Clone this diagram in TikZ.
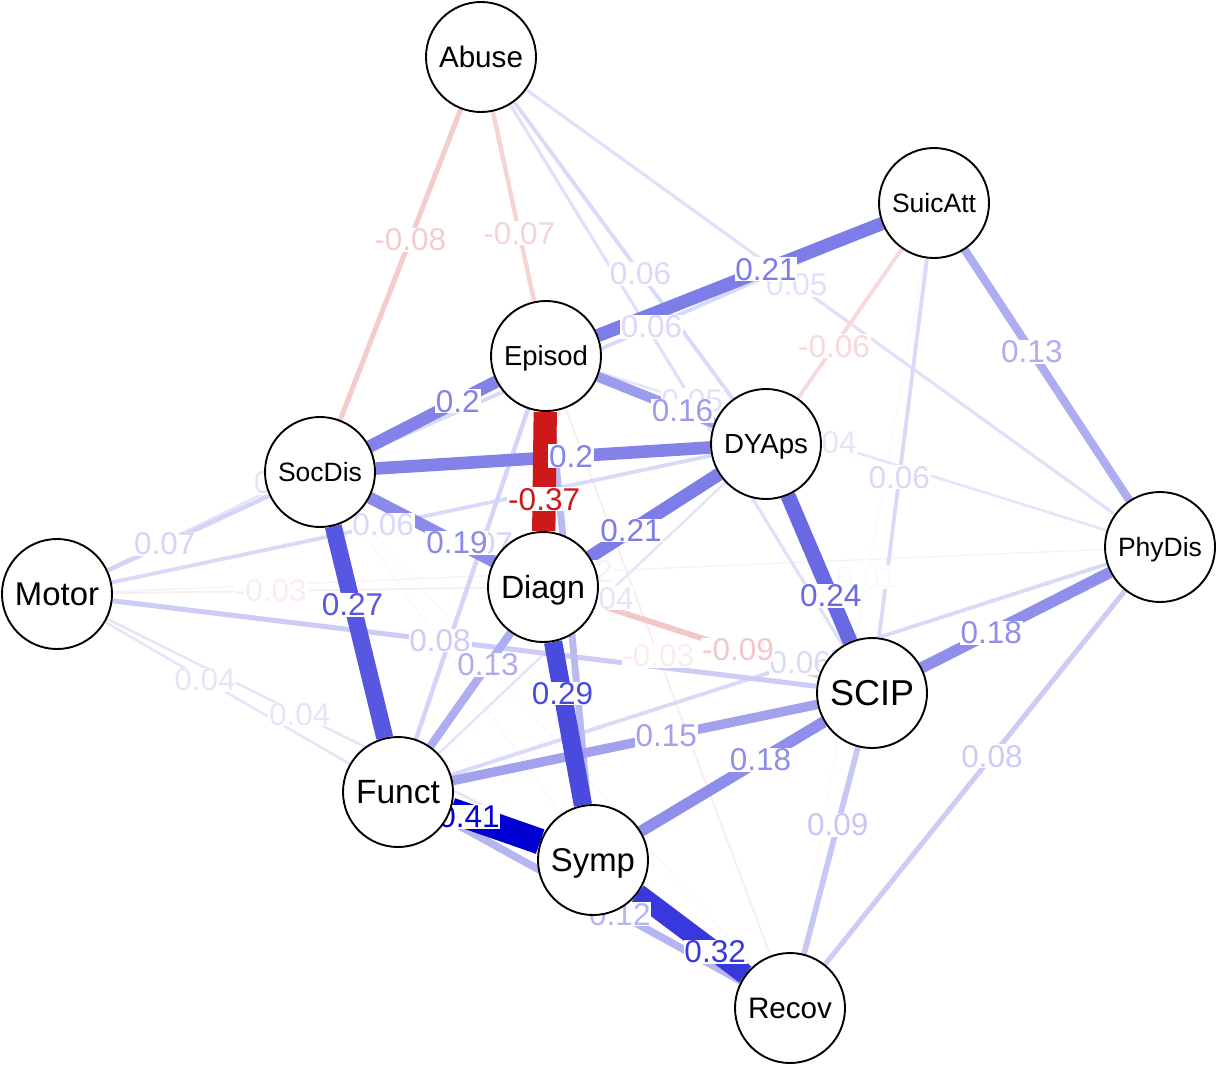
\documentclass[tikz,border=0pt]{standalone}
\usepackage{fontspec}
\usepackage{graphicx}
\setmainfont{Liberation Sans}
\definecolor{posc}{RGB}{0,0,210}
\definecolor{negc}{RGB}{200,0,0}
\pgfdeclarelayer{bglayer}
\pgfdeclarelayer{edgelayer}
\pgfdeclarelayer{labellayer}
\pgfsetlayers{bglayer,edgelayer,labellayer,main}
\tikzset{
  nd/.style={circle, draw=black, line width=1.9pt, fill=white, minimum size=110pt, inner sep=0pt},
  elab/.style={fill=white, inner sep=0.8pt, font=\fontsize{31.5}{31.5}\selectfont}
}
\newcommand\nlab[1]{\resizebox{84pt}{!}{\vphantom{H}\smash{#1}}}
% #1 from, #2 to, #3 |weight|, #4 base colour, #5 label, #6 label position (from #1)
\newcommand\netedge[6]{%
  \pgfmathtruncatemacro\ewp{min(100,round(#3/0.41*100))}%
  \pgfmathsetmacro\eww{max(1,#3*63)}%
  \begin{pgfonlayer}{edgelayer}
    \draw[line width=\eww pt, draw=#4!\ewp!white] (#1) -- (#2);
  \end{pgfonlayer}%
  \if\relax\detokenize{#5}\relax\else
  \begin{pgfonlayer}{labellayer}
    \path (#1.center) -- node[elab, text=#4!\ewp!white, pos=#6] {#5} (#2.center);
  \end{pgfonlayer}%
  \fi
}
\begin{document}
\begin{tikzpicture}[x=1pt,y=-1pt]
\begin{pgfonlayer}{bglayer}
\fill[white] (0,0) rectangle (1217,1066);
\end{pgfonlayer}
\useasboundingbox (0,0) rectangle (1217,1066);
% nodes
\node[nd] (Abuse)   at (481,57)   {\nlab{Abuse}};
\node[nd] (SuicAtt) at (934,203)  {\nlab{SuicAtt}};
\node[nd] (Episod)  at (546,356)  {\nlab{Episod}};
\node[nd] (SocDis)  at (320,472)  {\nlab{SocDis}};
\node[nd] (DYAps)   at (766,444)  {\nlab{DYAps}};
\node[nd] (Motor)   at (57,594)   {\nlab{Motor}};
\node[nd] (Diagn)   at (543,587)  {\nlab{Diagn}};
\node[nd] (PhyDis)  at (1160,547) {\nlab{PhyDis}};
\node[nd] (SCIP)    at (872,693)  {\nlab{SCIP}};
\node[nd] (Funct)   at (398,792)  {\nlab{Funct}};
\node[nd] (Symp)    at (593,860)  {\nlab{Symp}};
\node[nd] (Recov)   at (790,1008) {\nlab{Recov}};
% edges, weakest first
\netedge{SuicAtt}{Recov}{0.01}{posc}{0.01}{0.465}
\netedge{SocDis}{Symp}{0.012}{posc}{}{0.5}
\netedge{SocDis}{Recov}{0.012}{posc}{}{0.5}
\netedge{Motor}{PhyDis}{0.02}{posc}{0.02}{0.476}
\netedge{Episod}{Recov}{0.03}{negc}{-0.03}{0.46}
\netedge{Motor}{Diagn}{0.03}{negc}{-0.03}{0.44}
\netedge{Episod}{PhyDis}{0.04}{posc}{0.04}{0.456}
\netedge{Motor}{Episod}{0.04}{posc}{0.04}{0.466}
\netedge{Motor}{Funct}{0.04}{posc}{0.04}{0.434}
\netedge{Motor}{Symp}{0.04}{posc}{0.04}{0.453}
\netedge{DYAps}{Funct}{0.04}{posc}{0.04}{0.443}
\netedge{Abuse}{PhyDis}{0.05}{posc}{0.05}{0.465}
\netedge{Abuse}{SCIP}{0.05}{posc}{0.05}{0.54}
\netedge{Abuse}{DYAps}{0.06}{posc}{0.06}{0.56}
\netedge{SocDis}{SuicAtt}{0.06}{posc}{0.06}{0.54}
\netedge{Motor}{DYAps}{0.06}{posc}{0.06}{0.46}
\netedge{SuicAtt}{DYAps}{0.06}{negc}{-0.06}{0.595}
\netedge{SuicAtt}{SCIP}{0.06}{posc}{0.06}{0.56}
\netedge{Funct}{PhyDis}{0.06}{posc}{0.06}{0.528}
\netedge{Abuse}{Episod}{0.07}{negc}{-0.07}{0.59}
\netedge{Episod}{Funct}{0.07}{posc}{0.07}{0.43}
\netedge{Motor}{SocDis}{0.07}{posc}{0.07}{0.41}
\netedge{Abuse}{SocDis}{0.08}{negc}{-0.08}{0.44}
\netedge{Motor}{SCIP}{0.08}{posc}{0.08}{0.47}
\netedge{PhyDis}{Recov}{0.08}{posc}{0.08}{0.454}
\netedge{Diagn}{SCIP}{0.09}{negc}{-0.09}{0.593}
\netedge{SCIP}{Recov}{0.09}{posc}{0.09}{0.418}
\netedge{Episod}{Symp}{0.11}{posc}{}{0.5}
\netedge{Funct}{Recov}{0.12}{posc}{0.12}{0.566}
\netedge{SuicAtt}{PhyDis}{0.13}{posc}{0.13}{0.433}
\netedge{Diagn}{Funct}{0.13}{posc}{0.13}{0.38}
\netedge{Funct}{SCIP}{0.15}{posc}{0.15}{0.566}
\netedge{Episod}{DYAps}{0.16}{posc}{0.16}{0.62}
\netedge{Symp}{SCIP}{0.18}{posc}{0.18}{0.6}
\netedge{SCIP}{PhyDis}{0.18}{posc}{0.18}{0.414}
\netedge{SocDis}{Diagn}{0.19}{posc}{0.19}{0.614}
\netedge{Episod}{SocDis}{0.2}{posc}{0.2}{0.39}
\netedge{SocDis}{DYAps}{0.2}{posc}{0.2}{0.563}
\netedge{Episod}{SuicAtt}{0.21}{posc}{0.21}{0.567}
\netedge{DYAps}{Diagn}{0.21}{posc}{0.21}{0.605}
\netedge{DYAps}{SCIP}{0.24}{posc}{0.24}{0.61}
\netedge{SocDis}{Funct}{0.27}{posc}{0.27}{0.416}
\netedge{Diagn}{Symp}{0.29}{posc}{0.29}{0.39}
\netedge{Symp}{Recov}{0.32}{posc}{0.32}{0.62}
\netedge{Episod}{Diagn}{0.37}{negc}{-0.37}{0.62}
\netedge{Funct}{Symp}{0.41}{posc}{0.41}{0.364}
\end{tikzpicture}
\end{document}
